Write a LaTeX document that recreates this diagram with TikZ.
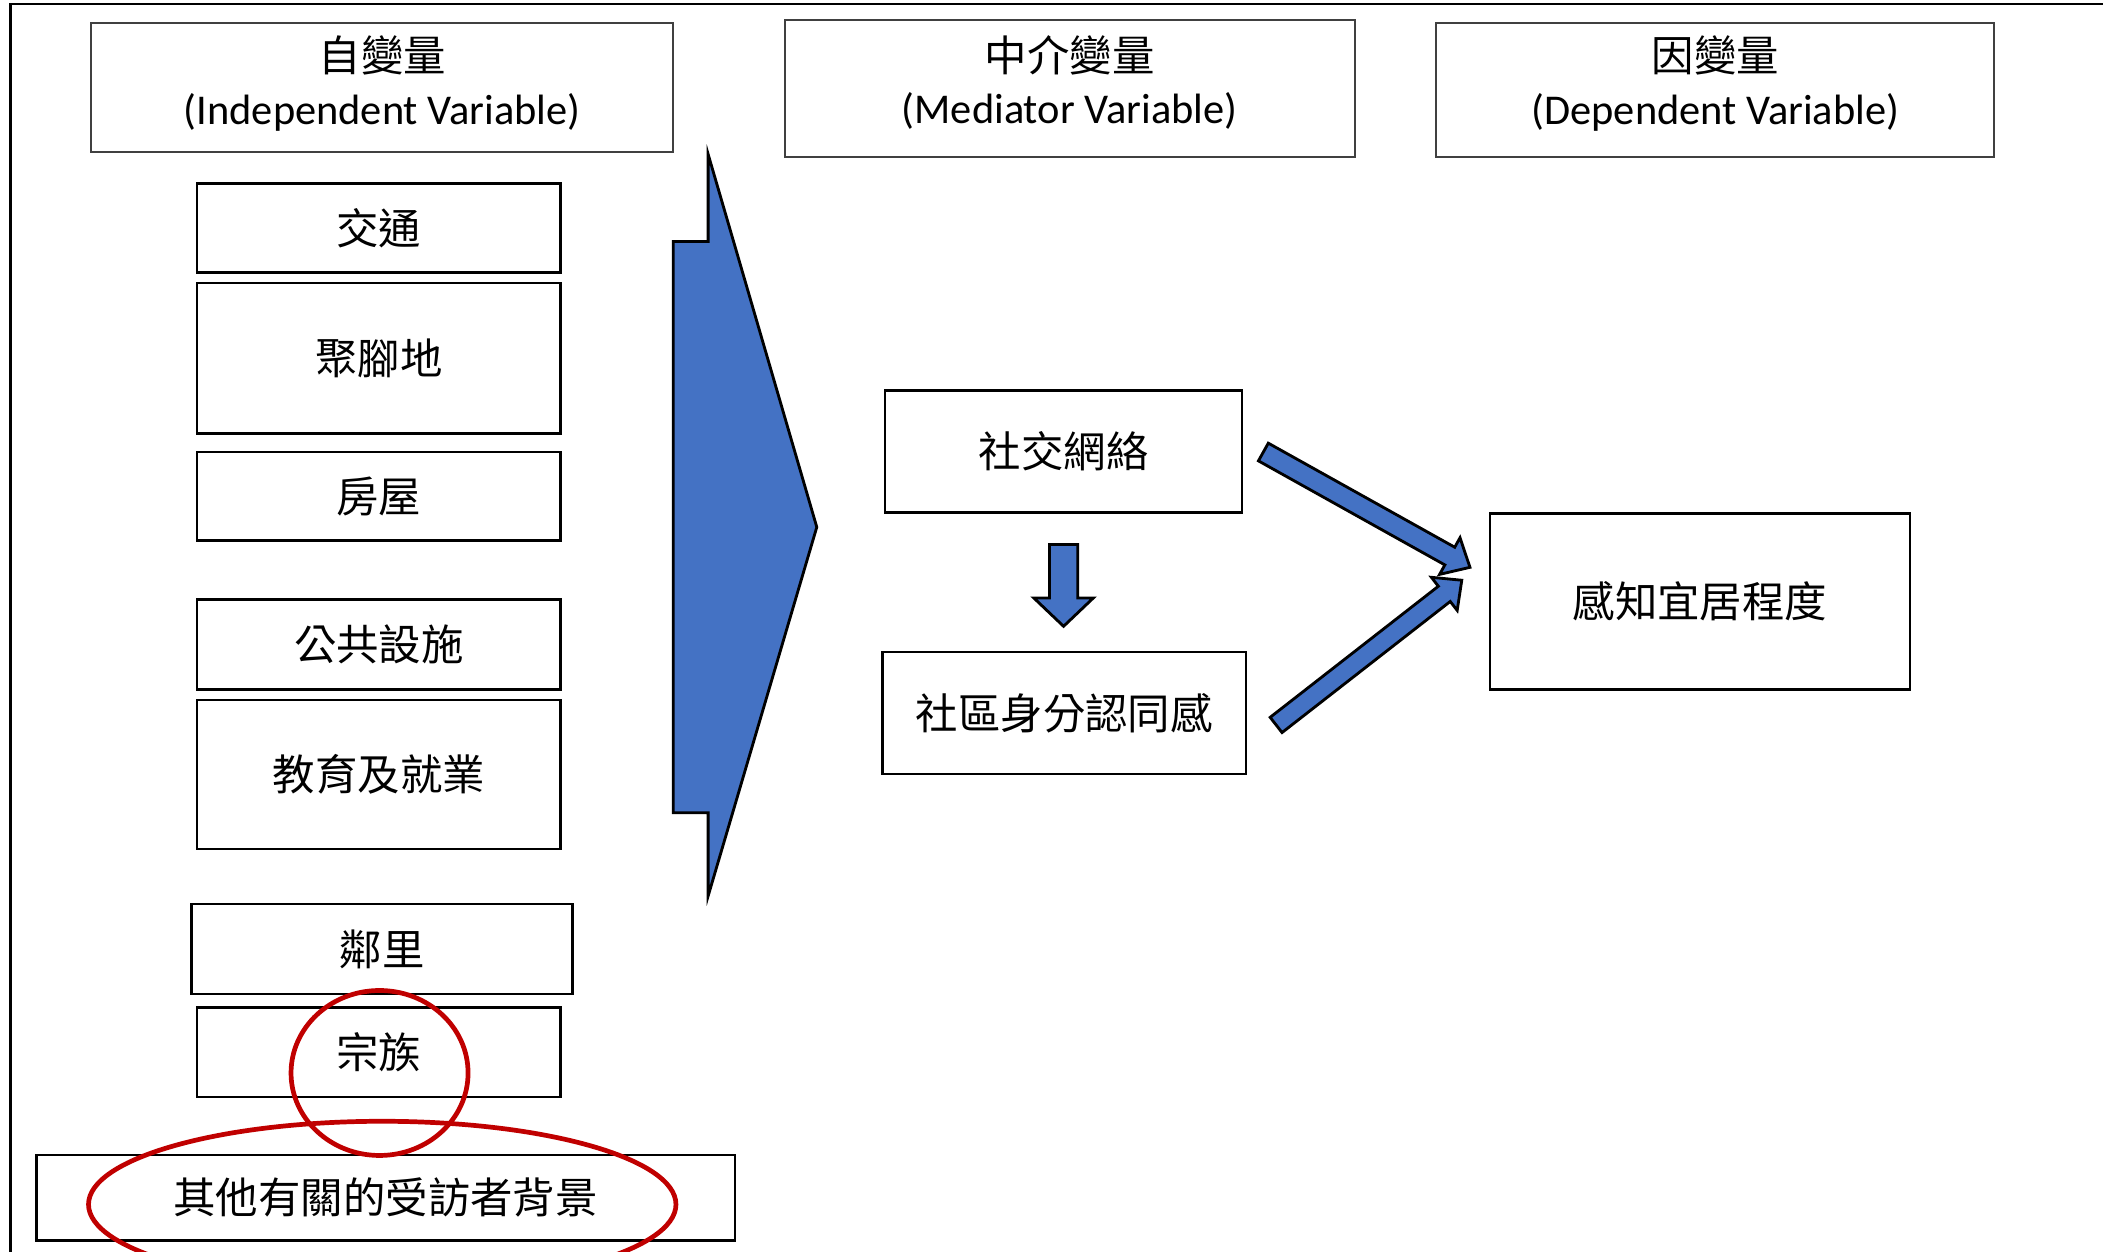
\documentclass[tikz,border=0pt]{standalone}
\usepackage{fontspec}
\setmainfont{Carlito}
\newfontfamily\cjk{Noto Sans CJK TC}
\usetikzlibrary{calc}
\definecolor{arrowblue}{HTML}{4472C4}
\definecolor{circred}{HTML}{C00000}
\newcommand\blockarrow[5]{%
  \path let \p1=#1, \p2=#2, \n1={atan2(\y2-\y1,\x2-\x1)}, \n2={veclen(\x2-\x1,\y2-\y1)} in
    \pgfextra{\pgfmathsetmacro\baAngleTmp{\n1}\xdef\baAngle{\baAngleTmp}%
              \pgfmathsetmacro\baLenTmp{\n2}\xdef\baLen{\baLenTmp}};
  \begin{scope}[shift={#1}, rotate=\baAngle]
    \draw[blockarr] (0pt,#3) -- ({\baLen pt-#4},#3) -- ({\baLen pt-#4},#5) -- (\baLen pt,0pt)
      -- ({\baLen pt-#4},-#5) -- ({\baLen pt-#4},-#3) -- (0pt,-#3) -- cycle;
  \end{scope}}
\tikzset{
  blockarr/.style={fill=arrowblue, draw=black, line width=0.6pt, line join=miter},
  hdr/.style={draw=black!75, line width=0.45pt, inner sep=0pt},
  hdrtext/.style={align=center, inner sep=0pt, font=\fontsize{9pt}{11.2pt}\selectfont},
  vbox/.style={draw=black, line width=0.55pt, inner sep=0pt,
    font=\cjk\fontsize{9pt}{11pt}\selectfont},
  ring/.style={draw=circred, line width=1.0pt}
}
\begin{document}
\begin{tikzpicture}[x=0.1mm,y=-0.1mm]
\useasboundingbox (0,0) rectangle (1568,933);
\clip (0,0) rectangle (1568,933);
% outer frame
\draw[line width=0.6pt] (8,1000) -- (8,3) -- (1600,3);
% headers
\node[hdr, minimum width=43.4mm, minimum height=9.6mm] (h1) at (285,65) {};
\node[hdrtext] (h1t) at ($(h1)+(0,-3)$) {{\cjk 自變量}\\(Independent Variable)};
\node[hdr, minimum width=42.5mm, minimum height=10.2mm] (h2) at (797.5,66) {};
\node[hdrtext] (h2t) at ($(h2)+(0,-4.5)$) {{\cjk 中介變量}\\(Mediator Variable)};
\node[hdr, minimum width=41.6mm, minimum height=10.0mm] (h3) at (1279,67) {};
\node[hdrtext] (h3t) at ($(h3)+(0,-4.5)$) {{\cjk 因變量}\\(Dependent Variable)};
% independent variable boxes
\node[vbox, minimum width=27.1mm, minimum height=6.6mm] (jt) at (282.5,170) {交通};
\node[vbox, minimum width=27.1mm, minimum height=11.2mm] (jjd) at (282.5,267) {聚腳地};
\node[vbox, minimum width=27.1mm, minimum height=6.6mm] (fw) at (282.5,370) {房屋};
\node[vbox, minimum width=27.1mm, minimum height=6.7mm] (gg) at (282.5,480.5) {公共設施};
\node[vbox, minimum width=27.1mm, minimum height=11.1mm] (jy) at (282.5,577.5) {教育及就業};
\node[vbox, minimum width=28.4mm, minimum height=6.7mm] (ll) at (285,707.5) {鄰里};
\node[vbox, minimum width=27.1mm, minimum height=6.7mm] (zz) at (282.5,784.5) {宗族};
\node[vbox, minimum width=52.1mm, minimum height=6.4mm] (qt) at (287.5,893) {其他有關的受訪者背景};
% big arrow
\draw[blockarr] (528,115) -- (609,393) -- (528,668) -- (528,606) -- (502,606)
  -- (502,180) -- (528,180) -- cycle;
% mediator and dependent boxes
\node[vbox, minimum width=26.6mm, minimum height=9.1mm] (sj) at (793,336.5) {社交網絡};
\node[vbox, minimum width=27.1mm, minimum height=9.1mm] (sq) at (793.5,531.5) {社區身分認同感};
\node[vbox, minimum width=31.3mm, minimum height=13.1mm] (gz) at (1267.5,448.5) {感知宜居程度};
% connector end points
\coordinate (d1) at ($(sj.south)+(0,23)$);
\coordinate (d2) at ($(sj.south)+(0,84)$);
\coordinate (a1) at ($(sj.east)+(15,0.5)$);
\coordinate (b1) at ($(gz.west)+(-14,-25.5)$);
\coordinate (a2) at ($(sq.east)+(21.5,9)$);
\coordinate (b2) at ($(gz.west)+(-20,-16)$);
\blockarrow{(d1)}{(d2)}{3pt}{6pt}{6.3pt}
\blockarrow{(a1)}{(b1)}{2.15pt}{4.9pt}{4.45pt}
\blockarrow{(a2)}{(b2)}{2.05pt}{4.7pt}{4.45pt}
% red rings
\draw[ring] (283,800) ellipse [x radius=6.6mm, y radius=6.15mm];
\draw[ring] (285,898) ellipse [x radius=21.9mm, y radius=6.2mm];
\end{tikzpicture}
\end{document}
